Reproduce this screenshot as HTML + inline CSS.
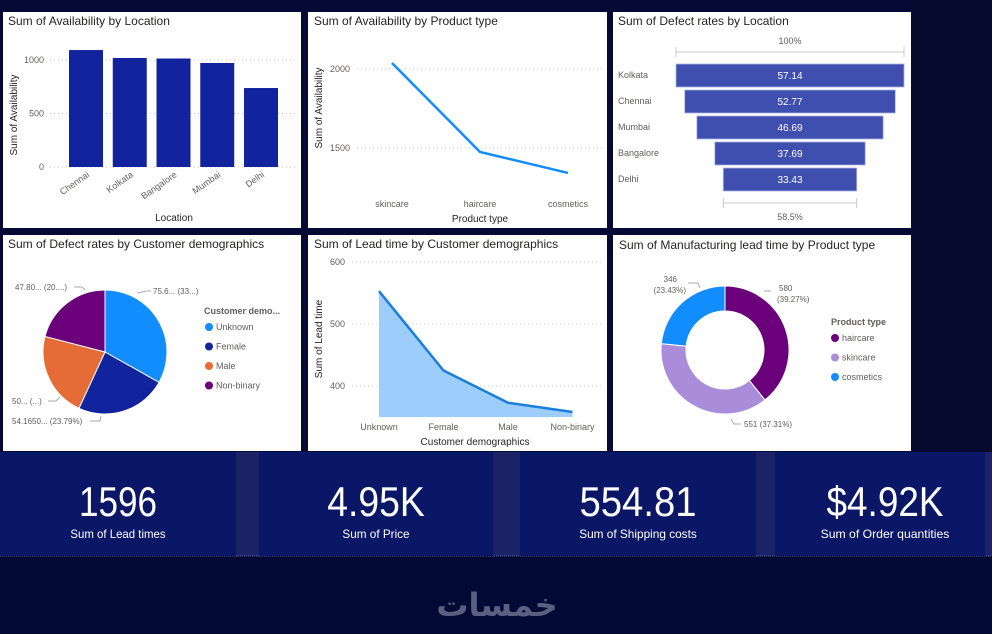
<!DOCTYPE html>
<html><head><meta charset="utf-8"><style>
html,body{margin:0;padding:0;background:#040a33;}
svg{display:block;font-family:"Liberation Sans",sans-serif;}
</style></head><body>
<svg id="s" width="992" height="634" viewBox="0 0 992 634" xmlns="http://www.w3.org/2000/svg">
<rect x="0" y="0" width="992" height="634" fill="#040a33"/>
<rect x="912" y="0" width="80" height="452" fill="#060a2e"/>
<rect x="0" y="452" width="992" height="104" fill="#1c2266"/>
<rect x="0" y="556" width="992" height="78" fill="#030935"/>
<line x1="0" y1="556" x2="992" y2="556" stroke="#6670a0" stroke-dasharray="1 1"/>
<g><rect x="3" y="12" width="298" height="216" fill="#fff"/><text x="8" y="25" font-size="12" fill="#252423">Sum of Availability by Location</text></g>
<g><rect x="308" y="12" width="299" height="216" fill="#fff"/><text x="314" y="25" font-size="12" fill="#252423">Sum of Availability by Product type</text></g>
<g><rect x="613" y="12" width="298" height="216" fill="#fff"/><text x="618" y="25" font-size="12" fill="#252423">Sum of Defect rates by Location</text></g>
<g><rect x="3" y="235" width="298" height="216" fill="#fff"/><text x="8" y="248" font-size="12" fill="#252423">Sum of Defect rates by Customer demographics</text></g>
<g><rect x="308" y="235" width="299" height="216" fill="#fff"/><text x="314" y="248" font-size="12" fill="#252423">Sum of Lead time by Customer demographics</text></g>
<g><rect x="613" y="235" width="298" height="216" fill="#fff"/><text x="619" y="249" font-size="12" fill="#252423">Sum of Manufacturing lead time by Product type</text></g>
<g id="kpis"></g>
<text x="497" y="616" font-size="32" font-weight="bold" fill="#5a6180" text-anchor="middle" font-family="'DejaVu Sans',sans-serif">خمسات</text>
<g id="g"></g>
</svg>
<script>
// chart 1
const locCats=["Chennai","Kolkata","Bangalore","Mumbai","Delhi"];
const locAvail=[1093,1019,1014,972,738];
const locTicks=[0,500,1000];
// chart 2
const prodCats=["skincare","haircare","cosmetics"];
const prodAvail=[2038,1475,1342];
const prodTicks=[1500,2000];
// chart 3
const funnelCats=["Kolkata","Chennai","Mumbai","Bangalore","Delhi"];
const funnelVals=[57.14,52.77,46.69,37.69,33.43];
// chart 4
const demoCats=["Unknown","Female","Male","Non-binary"];
const demoDefect=[75.6,54.165,50.5,47.8];
const demoColors=["#118dff","#12239e","#e66c37","#6b007b"];
const demoLabels=["75.6... (33...)","54.1650... (23.79%)","50... (...)","47.80... (20....)"];
// chart 5
const leadVals=[553,425,373,358];
const leadTicks=[400,500,600];
// chart 6
const mfgCats=["haircare","skincare","cosmetics"];
const mfgVals=[580,551,346];
const mfgColors=["#6b007b","#a98ddb","#118dff"];
// KPIs
const kpiVals=["1596","4.95K","554.81","$4.92K"];
const kpiLabels=["Sum of Lead times","Sum of Price","Sum of Shipping costs","Sum of Order quantities"];

const NS="http://www.w3.org/2000/svg";
const G=document.getElementById('g');
function el(t,a,txt,p){const e=document.createElementNS(NS,t);for(const k in a)e.setAttribute(k,a[k]);if(txt!=null)e.textContent=txt;(p||G).appendChild(e);return e;}

{const y=v=>167-v*(107/1000);const x0=69,step=43.75,bw=34;
locTicks.forEach(t=>{el('line',{x1:50,x2:298,y1:y(t),y2:y(t),stroke:'#c8c8c8','stroke-dasharray':'1 3'});
const e=el('text',{x:44,y:y(t)+3,'font-size':9,fill:'#605e5c','text-anchor':'end'},t);});
locCats.forEach((c,i)=>{const b=el('rect',{x:x0+i*step,y:y(locAvail[i]),width:bw,height:y(0)-y(locAvail[i]),fill:'#12239e'});

const cx=x0+i*step+bw/2+4;const t=el('text',{x:cx,y:176,'font-size':9,fill:'#605e5c','text-anchor':'end',transform:`rotate(-35 ${cx} 176)`},c);
});
const a=el('text',{x:17,y:115,'font-size':10,fill:'#252423','text-anchor':'middle',transform:'rotate(-90 17 115)'},'Sum of Availability');
const b=el('text',{x:174,y:221,'font-size':10,fill:'#252423','text-anchor':'middle'},'Location');}

{const y=v=>148-(v-1500)*(79/500);const x=i=>392+i*88;
prodTicks.forEach(t=>{el('line',{x1:357,x2:603,y1:y(t),y2:y(t),stroke:'#c8c8c8','stroke-dasharray':'1 3'});
const e=el('text',{x:350,y:y(t)+3,'font-size':9,fill:'#605e5c','text-anchor':'end'},t);});
const l=el('polyline',{points:prodAvail.map((v,i)=>x(i)+','+y(v)).join(' '),fill:'none',stroke:'#118dff','stroke-width':2.5});

prodCats.forEach((c,i)=>{const t=el('text',{x:x(i),y:207,'font-size':9,fill:'#605e5c','text-anchor':'middle'},c);});
const a=el('text',{x:322,y:108,'font-size':10,fill:'#252423','text-anchor':'middle',transform:'rotate(-90 322 108)'},'Sum of Availability');
const b=el('text',{x:480,y:222,'font-size':10,fill:'#252423','text-anchor':'middle'},'Product type');}

{const cx=790,maxW=228,max=funnelVals[0];
el('line',{x1:676,x2:904,y1:52,y2:52,stroke:'#c8c8c8'});el('line',{x1:676,x2:676,y1:47,y2:57,stroke:'#c8c8c8'});el('line',{x1:904,x2:904,y1:47,y2:57,stroke:'#c8c8c8'});
el('text',{x:790,y:44,'font-size':9,fill:'#605e5c','text-anchor':'middle'},'100%');
funnelCats.forEach((c,i)=>{const w=funnelVals[i]/max*maxW,yy=64+i*26;
const r=el('rect',{x:cx-w/2,y:yy,width:w,height:23,fill:'#3f4fb0',stroke:'#aab3e0','stroke-width':0.8});
el('text',{x:cx,y:yy+15,'font-size':10,fill:'#fff','text-anchor':'middle'},funnelVals[i].toFixed(2));
const t=el('text',{x:618,y:yy+14,'font-size':9,fill:'#605e5c'},c);});
const last=funnelVals[funnelVals.length-1]/max*maxW;
el('line',{x1:cx-last/2,x2:cx+last/2,y1:203,y2:203,stroke:'#c8c8c8'});el('line',{x1:cx-last/2,x2:cx-last/2,y1:198,y2:208,stroke:'#c8c8c8'});el('line',{x1:cx+last/2,x2:cx+last/2,y1:198,y2:208,stroke:'#c8c8c8'});
el('text',{x:790,y:220,'font-size':9,fill:'#605e5c','text-anchor':'middle'},(funnelVals[4]/max*100).toFixed(1)+'%');}

function arc(cx,cy,r,ri,a0,a1,fill){const p=(r,a)=>[cx+r*Math.sin(a),cy-r*Math.cos(a)];const lg=a1-a0>Math.PI?1:0;
const [x0,y0]=p(r,a0),[x1,y1]=p(r,a1);let d;
if(ri>0){const [x2,y2]=p(ri,a1),[x3,y3]=p(ri,a0);d=`M${x0},${y0}A${r},${r} 0 ${lg} 1 ${x1},${y1}L${x2},${y2}A${ri},${ri} 0 ${lg} 0 ${x3},${y3}Z`;}
else d=`M${cx},${cy}L${x0},${y0}A${r},${r} 0 ${lg} 1 ${x1},${y1}Z`;
return el('path',{d:d,fill:fill,stroke:'#fff','stroke-width':1});}

{const tot=demoDefect.reduce((a,b)=>a+b,0);let a=0;
demoCats.forEach((c,i)=>{const s=demoDefect[i]/tot*2*Math.PI;const p=arc(105,352,62,0,a,a+s,demoColors[i]);a+=s;
const ly=330+i*19.5;const dot=el('circle',{cx:209,cy:ly-3,r:4,fill:demoColors[i]});
const t=el('text',{x:216,y:ly,'font-size':9,fill:'#605e5c'},c);});
el('text',{x:204,y:314,'font-size':9,'font-weight':'bold',fill:'#605e5c'},'Customer demo...');
el('text',{x:153,y:294,'font-size':8,fill:'#605e5c'},demoLabels[0]);el('polyline',{points:'137,293 147,291 151,291',fill:'none',stroke:'#aaa'});
el('text',{x:12,y:424,'font-size':8,fill:'#605e5c'},demoLabels[1]);el('polyline',{points:'90,421 100,421 101,416',fill:'none',stroke:'#aaa'});
el('text',{x:12,y:404,'font-size':8,fill:'#605e5c'},demoLabels[2]);el('polyline',{points:'48,401 56,401 60,397',fill:'none',stroke:'#aaa'});
el('text',{x:15,y:290,'font-size':8,fill:'#605e5c'},demoLabels[3]);el('polyline',{points:'74,287 82,287 85,290',fill:'none',stroke:'#aaa'});}

{const y=v=>324-(v-500)*0.62;const x=i=>379+i*64.5;
leadTicks.forEach(t=>{el('line',{x1:352,x2:603,y1:y(t),y2:y(t),stroke:'#c8c8c8','stroke-dasharray':'1 3'});
const e=el('text',{x:345,y:y(t)+3,'font-size':9,fill:'#605e5c','text-anchor':'end'},t);});
const pts=leadVals.map((v,i)=>x(i)+','+y(v)).join(' ');
const ar=el('polygon',{points:pts+` ${x(3)},417 ${x(0)},417`,fill:'#9dcdfb'});
const l=el('polyline',{points:pts,fill:'none',stroke:'#1a7fdc','stroke-width':2.5});
demoCats.forEach((c,i)=>{const t=el('text',{x:x(i),y:430,'font-size':9,fill:'#605e5c','text-anchor':'middle'},c);});
const a=el('text',{x:322,y:339,'font-size':10,fill:'#252423','text-anchor':'middle',transform:'rotate(-90 322 339)'},'Sum of Lead time');
const b=el('text',{x:475,y:445,'font-size':10,fill:'#252423','text-anchor':'middle'},'Customer demographics');}

{const tot=mfgVals.reduce((a,b)=>a+b,0);let a=0;
mfgCats.forEach((c,i)=>{const s=mfgVals[i]/tot*2*Math.PI;const p=arc(725,350,64,39,a,a+s,mfgColors[i]);a+=s;
const ly=341+i*19.5;const dot=el('circle',{cx:835,cy:ly-3,r:4,fill:mfgColors[i]});
const t=el('text',{x:842,y:ly,'font-size':9,fill:'#605e5c'},c);});
el('text',{x:831,y:325,'font-size':9,'font-weight':'bold',fill:'#605e5c'},'Product type');
const pct=v=>(v/tot*100).toFixed(2)+'%';
el('text',{x:779,y:291,'font-size':8,fill:'#605e5c'},mfgVals[0]);el('text',{x:777,y:302,'font-size':8,fill:'#605e5c'},'('+pct(mfgVals[0])+')');
el('text',{x:744,y:427,'font-size':8,fill:'#605e5c'},mfgVals[1]+' ('+pct(mfgVals[1])+')');
el('text',{x:677,y:282,'font-size':8,fill:'#605e5c','text-anchor':'end'},mfgVals[2]);el('text',{x:686,y:293,'font-size':8,fill:'#605e5c','text-anchor':'end'},'('+pct(mfgVals[2])+')');
el('polyline',{points:'764,291 771,291',fill:'none',stroke:'#aaa'});el('polyline',{points:'731,419 734,424 741,424',fill:'none',stroke:'#aaa'});el('polyline',{points:'688,283 698,283 700,288',fill:'none',stroke:'#aaa'});}

{const K=document.getElementById('kpis');const xs=[0,259,520,775],ws=[236,234,236,210];
kpiVals.forEach((v,i)=>{const r=el('rect',{x:xs[i],y:452,width:ws[i],height:104,fill:'#0a1766'},null,K);
const cx=xs[i]+ws[i]/2+(i==3?5:0);
const t=el('text',{x:cx,y:516,'font-size':42,fill:'#fff','text-anchor':'middle',textLength:v.length*19.5,lengthAdjust:'spacingAndGlyphs'},v,K);
const l=el('text',{x:cx,y:538,'font-size':12,fill:'#fff','text-anchor':'middle',textLength:kpiLabels[i].length*5.6,lengthAdjust:'spacingAndGlyphs'},kpiLabels[i],K);});}
</script>
</body></html>
